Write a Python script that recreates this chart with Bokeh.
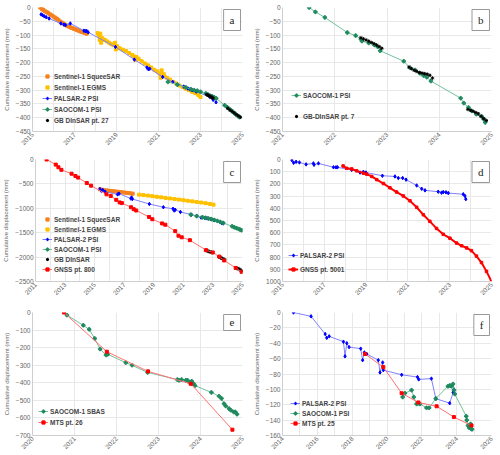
import math
from bokeh.plotting import figure
from bokeh.models import Range1d, FixedTicker, Legend, LegendItem, Label
from bokeh.layouts import column, row
from bokeh.embed import file_html
from bokeh.resources import INLINE

# ---------------- data ----------------
# panel a
a_sqz_t = [2015.37, 2015.45, 2015.52, 2015.6, 2015.68, 2015.76, 2015.84, 2015.92, 2016.0, 2016.08, 2016.16, 2016.24, 2016.32, 2016.4, 2016.48, 2016.56, 2016.64, 2016.72, 2016.8, 2016.88, 2016.96, 2017.04, 2017.12, 2017.2, 2017.28, 2017.36, 2017.44, 2017.52, 2017.58]
a_sqz_d = [0, -5, -9, -14, -17, -21, -25, -29, -33, -37, -41, -46, -51, -55, -59, -63, -66, -69, -72, -74, -77, -79, -82, -84, -87, -89, -91, -93, -95]
a_egms_t = [2018.10, 2018.15, 2018.20, 2018.23, 2018.27, 2018.30, 2018.35, 2018.45, 2018.55, 2018.65, 2018.75, 2018.85, 2018.93, 2018.97, 2019.02, 2019.15, 2019.3, 2019.45, 2019.6, 2019.75, 2019.85, 2019.9, 2019.95, 2020.05, 2020.2, 2020.35, 2020.5, 2020.65, 2020.8, 2020.95, 2021.05, 2021.1, 2021.15, 2021.2, 2021.25, 2021.4, 2021.55, 2021.7, 2021.85, 2022.0, 2022.15, 2022.3, 2022.45, 2022.6, 2022.75, 2022.9, 2023.0]
a_egms_d = [-93, -100, -118, -95, -128, -110, -115, -118, -123, -128, -133, -137, -128, -152, -140, -148, -153, -158, -165, -172, -178, -190, -180, -186, -195, -203, -210, -218, -226, -232, -240, -255, -228, -250, -242, -255, -262, -270, -276, -283, -289, -295, -300, -306, -311, -318, -325]
a_pal_t = [2015.41, 2015.48, 2015.56, 2015.65, 2015.79, 2016.35, 2016.5, 2016.57, 2016.8, 2017.45, 2017.52, 2017.58, 2017.65, 2018.95, 2019.85, 2020.45, 2020.52, 2020.58, 2021.2, 2021.68, 2022.2, 2022.4, 2022.5, 2022.6, 2022.8, 2023.45, 2023.6, 2023.74]
a_pal_d = [-25, -28, -32, -35, -40, -58, -62, -64, -58, -84, -86, -85, -90, -143, -189, -218, -224, -222, -252, -270, -287, -294, -297, -300, -305, -325, -335, -344]
a_sao_t = [2021.45, 2021.9, 2022.3, 2022.55, 2022.7, 2022.85, 2023.0, 2023.25, 2023.35, 2023.45, 2023.55, 2023.65, 2023.75, 2024.15, 2024.28, 2024.4, 2024.5, 2024.6, 2024.7, 2024.78, 2024.86]
a_sao_d = [-270, -280, -290, -297, -300, -302, -306, -312, -316, -320, -322, -326, -330, -355, -362, -370, -376, -383, -389, -394, -398]
a_gb_t = [2023.3, 2023.35, 2023.4, 2023.45, 2023.5, 2023.55, 2023.6, 2024.3, 2024.4, 2024.5, 2024.6, 2024.7, 2024.8, 2024.9]
a_gb_d = [-316, -318, -320, -322, -324, -327, -329, -366, -372, -377, -382, -388, -393, -398]

# panel b
b_sao_t = [2021.51, 2021.63, 2021.81, 2022.24, 2022.40, 2022.50, 2022.52, 2022.65, 2022.76, 2022.82, 2022.87, 2023.32, 2023.44, 2023.54, 2023.63, 2023.70, 2023.76, 2023.84, 2024.41, 2024.47, 2024.56, 2024.62, 2024.71, 2024.81, 2024.85, 2024.88]
b_sao_d = [0, -16, -36, -91, -102, -115, -122, -129, -136, -142, -157, -195, -219, -227, -239, -247, -253, -267, -329, -347, -363, -375, -387, -395, -405, -417]
b_gb_t = [2022.50, 2022.55, 2022.6, 2022.65, 2022.7, 2022.75, 2022.8, 2022.85, 2022.9, 2023.42, 2023.47, 2023.52, 2023.57, 2023.62, 2023.67, 2023.72, 2023.77, 2023.82, 2023.87, 2024.55, 2024.6, 2024.65, 2024.7, 2024.75, 2024.8, 2024.85, 2024.9]
b_gb_d = [-110, -114, -118, -122, -127, -131, -136, -142, -148, -216, -222, -228, -232, -236, -238, -240, -242, -246, -256, -370, -373, -377, -381, -386, -395, -403, -410]

# panel c
c_sqz_t = [2015.36, 2015.5, 2015.65, 2015.8, 2015.95, 2016.1, 2016.25, 2016.4, 2016.55, 2016.7, 2016.85, 2017.0, 2017.15, 2017.3, 2017.45, 2017.57]
c_sqz_d = [-612, -620, -628, -633, -640, -645, -650, -655, -661, -667, -672, -677, -683, -689, -695, -700]
c_egms_t = [2018.0, 2018.3, 2018.6, 2018.9, 2019.2, 2019.5, 2019.8, 2020.1, 2020.4, 2020.7, 2021.0, 2021.3, 2021.6, 2021.9, 2022.2, 2022.5, 2022.8, 2023.04]
c_egms_d = [-720, -730, -740, -752, -763, -775, -787, -798, -810, -822, -834, -846, -858, -870, -882, -895, -910, -925]
c_pal_t = [2015.36, 2015.45, 2015.55, 2015.7, 2016.55, 2016.65, 2017.45, 2017.5, 2017.55, 2018.7, 2019.65, 2020.3, 2020.38, 2020.45, 2020.8, 2021.55, 2021.9, 2022.2, 2022.45, 2022.6, 2022.85, 2023.05, 2023.5, 2023.6, 2023.7]
c_pal_d = [-605, -640, -625, -660, -715, -700, -800, -780, -810, -912, -978, -1010, -1045, -1030, -1075, -1130, -1157, -1190, -1197, -1205, -1225, -1245, -1285, -1300, -1310]
c_sao_t = [2021.5, 2021.9, 2022.3, 2022.5, 2022.7, 2022.9, 2023.1, 2023.3, 2023.5, 2023.7, 2024.3, 2024.45, 2024.6, 2024.75, 2024.85, 2024.95]
c_sao_d = [-1130, -1160, -1185, -1195, -1210, -1222, -1240, -1258, -1280, -1300, -1370, -1390, -1408, -1425, -1438, -1450]
c_gb_t = [2022.5, 2022.58, 2022.65, 2022.72, 2022.8, 2022.88, 2022.95, 2023.4, 2023.47, 2023.54, 2023.6, 2023.67, 2023.74, 2023.8, 2024.55, 2024.62, 2024.7, 2024.77, 2024.84, 2024.9, 2024.95]
c_gb_d = [-1858, -1866, -1875, -1884, -1892, -1900, -1908, -1990, -2002, -2015, -2025, -2035, -2048, -2058, -2222, -2230, -2236, -2245, -2262, -2275, -2290]
c_gnss_t = [2011.75, 2012.37, 2012.55, 2012.75, 2013.44, 2013.7, 2013.88, 2014.47, 2014.76, 2015.8, 2016.09, 2016.46, 2016.69, 2016.84, 2017.46, 2017.64, 2017.81, 2018.68, 2018.9, 2019.56, 2019.78, 2020.45, 2020.67, 2020.89, 2021.44, 2022.54, 2022.99, 2023.43, 2023.76, 2024.54, 2024.94]
c_gnss_d = [0, -105, -159, -212, -291, -337, -371, -482, -536, -714, -747, -827, -879, -893, -978, -1018, -1045, -1177, -1224, -1310, -1336, -1468, -1561, -1594, -1653, -1858, -1905, -1990, -2069, -2222, -2302]

# panel d (downward positive)
d_pal_t = [2015.45, 2015.53, 2015.65, 2015.81, 2016.13, 2016.48, 2016.51, 2016.72, 2017.44, 2017.56, 2017.63, 2018.31, 2018.71, 2018.87, 2018.99, 2019.78, 2020.38, 2020.54, 2020.75, 2020.91, 2021.42, 2021.66, 2021.82, 2022.45, 2022.61, 2022.69, 2022.82, 2022.93, 2023.65, 2023.73, 2023.77]
d_pal_d = [5, 27, 19, 24, 40, 32, 43, 32, 64, 64, 64, 85, 107, 101, 107, 133, 139, 152, 152, 165, 213, 240, 253, 264, 272, 267, 269, 275, 285, 299, 325]
d_gnss_t = [2017.9, 2018.07, 2018.31, 2018.55, 2018.87, 2019.03, 2019.27, 2019.51, 2019.83, 2020.14, 2020.46, 2020.78, 2021.1, 2021.42, 2021.74, 2022.05, 2022.37, 2022.69, 2023.01, 2023.33, 2023.57, 2023.81, 2024.04, 2024.28, 2024.52, 2024.76, 2025.0]
d_gnss_d = [53, 72, 77, 93, 112, 120, 139, 165, 197, 232, 267, 299, 339, 392, 453, 507, 565, 613, 645, 685, 707, 725, 747, 792, 845, 917, 1000]

# panel e
e_sao_t = [2020.82, 2021.21, 2021.35, 2021.48, 2021.61, 2021.75, 2021.79, 2022.22, 2022.37, 2022.74, 2023.45, 2023.49, 2023.55, 2023.65, 2023.69, 2023.73, 2023.77, 2023.79, 2023.83, 2023.87, 2024.26, 2024.44, 2024.5, 2024.56, 2024.6, 2024.68, 2024.72, 2024.79, 2024.83, 2024.87]
e_sao_d = [-15, -73, -96, -148, -208, -242, -238, -285, -300, -341, -382, -386, -382, -386, -386, -397, -401, -391, -404, -416, -455, -476, -489, -519, -532, -547, -556, -566, -566, -579]
e_mts_t = [2020.75, 2021.77, 2022.75, 2023.77, 2024.76]
e_mts_d = [0, -223, -335, -406, -667]

# panel f
f_pal_t = [2014.63, 2015.64, 2016.45, 2016.54, 2016.68, 2017.5, 2017.59, 2017.69, 2017.82, 2018.49, 2018.6, 2018.7, 2018.84, 2019.5, 2019.6, 2019.75, 2019.79, 2020.84, 2021.75, 2021.82, 2022.55, 2022.8, 2023.6, 2023.8, 2023.84]
f_pal_d = [0, -5, -28, -33, -31, -38, -57, -40, -45, -47, -62, -52, -54, -62, -78, -65, -75, -81, -84, -87, -86, -112, -118, -104, -100]
f_sao_t = [2020.9, 2021.03, 2021.41, 2021.54, 2021.7, 2021.79, 2021.89, 2022.27, 2022.42, 2022.8, 2023.5, 2023.6, 2023.7, 2023.79, 2023.85, 2023.89, 2024.55, 2024.58, 2024.65, 2024.72, 2024.8, 2024.83, 2024.88]
f_sao_d = [-110, -105, -101, -110, -119, -118, -119, -124, -124, -112, -96, -95, -96, -93, -101, -106, -135, -140, -147, -150, -145, -151, -152]
f_mts_t = [2018.74, 2019.79, 2020.84, 2021.8, 2022.85, 2023.84, 2024.85]
f_mts_d = [-54, -71, -105, -117, -122, -136, -147]

# axis ticks
a_xticks = [2015, 2017, 2019, 2021, 2023, 2025]
a_yticks = [0, -50, -100, -150, -200, -250, -300, -350, -400, -450]
b_xticks = [2021, 2022, 2023, 2024, 2025]
c_xticks = [2011, 2013, 2015, 2017, 2019, 2021, 2023, 2025]
c_yticks = [0, -500, -1000, -1500, -2000, -2500]
d_xticks = [2015, 2017, 2019, 2021, 2023, 2025]
d_yticks = [0, 100, 200, 300, 400, 500, 600, 700, 800, 900, 1000]
e_xticks = [2020, 2021, 2022, 2023, 2024, 2025]
e_yticks = [0, -100, -200, -300, -400, -500, -600, -700]
f_xticks = [2014, 2016, 2018, 2020, 2022, 2024, 2026]
f_yticks = [0, -20, -40, -60, -80, -100, -120, -140, -160]

# ---------------- style ----------------
FONT = "Liberation Sans"
ORANGE = "#f5801e"
YELLOW = "#ffc000"
BLUE = "#0000ff"
BLUE_L = "#8080ff"
GREEN = "#1f8a5e"
GREEN_L = "#72c29d"
RED = "#ff0000"
RED_L = "#ff7070"
GRID = "#e8e8e8"


def panel(letter, xr, yr, xticks, yticks, left, h, bt, bb):
    w = 250 if left else 249
    bl = 26 if left else 32
    br = 8
    p = figure(width=w, height=h, x_range=Range1d(*xr), y_range=Range1d(*yr),
               output_backend="svg", toolbar_location=None,
               min_border_left=bl, min_border_right=br,
               min_border_top=bt, min_border_bottom=bb)
    p.outline_line_color = None
    minor = [y for y in range(int(math.ceil(xr[0])), int(xr[1]) + 1) if y not in xticks]
    p.xaxis.ticker = FixedTicker(ticks=xticks, minor_ticks=minor)
    p.yaxis.ticker = FixedTicker(ticks=yticks, minor_ticks=[])
    p.xgrid.grid_line_color = GRID
    p.xgrid.minor_grid_line_color = GRID
    p.ygrid.grid_line_color = GRID
    for ax in (p.xaxis[0], p.yaxis[0]):
        ax.major_label_text_font = FONT
        ax.major_label_text_font_size = "6.5px"
        ax.major_label_text_color = "#666666"
        ax.axis_line_color = "#cfcfcf"
        ax.major_tick_line_color = None
        ax.minor_tick_line_color = None
        ax.major_tick_out = 0
        ax.major_tick_in = 0
        ax.minor_tick_out = 0
        ax.minor_tick_in = 0
        ax.major_label_standoff = 2
    p.xaxis.major_label_orientation = math.pi / 4
    p.yaxis.axis_label = "Cumulative displacement (mm)"
    p.yaxis.axis_label_text_font = FONT
    p.yaxis.axis_label_text_font_size = "6px"
    p.yaxis.axis_label_text_font_style = "normal"
    p.yaxis.axis_label_text_color = "#666666"
    p.yaxis.axis_label_standoff = 3
    p.add_layout(Label(x=xr[1], y=yr[1], x_offset=-2, y_offset=-2,
                       text=letter, text_align="right", text_baseline="top",
                       text_font="Liberation Serif", text_font_size="11px",
                       text_color="#222222", background_fill_color="white",
                       border_line_color="#999999",
                       padding=dict(left=6, right=6, top=4, bottom=5)))
    return p


def band(p, t, d, color):
    p.line(t, d, line_color=color, line_width=2.5)
    return p.scatter(t, d, marker="square", size=3, fill_color=color, line_color=color)


def psi(p, t, d, color, lcolor, marker):
    l = p.line(t, d, line_color=lcolor, line_width=1)
    s = p.scatter(t, d, marker=marker, size=3.5, fill_color=color, line_color=color)
    return [l, s]


def gb(p, t, d):
    return p.scatter(t, d, marker="asterisk", size=3.5, line_color="black", line_width=1)


def sq(p, t, d, color, lcolor, lw=1, size=3):
    l = p.line(t, d, line_color=lcolor, line_width=lw)
    s = p.scatter(t, d, marker="square", size=size, fill_color=color, line_color=color)
    return [l, s]


def legend(p, items, x, y, spacing):
    lg = Legend(items=[LegendItem(label=lab, renderers=r) for lab, r in items],
                location=(x, y), orientation="vertical", padding=0, margin=0,
                spacing=spacing, glyph_height=8, glyph_width=10, label_height=8,
                label_standoff=2, label_text_font=FONT, label_text_font_size="6.5px",
                label_text_font_style="bold", label_text_color="#444444",
                background_fill_alpha=0, border_line_alpha=0)
    p.add_layout(lg)


# ---- a
pa = panel("a", (2015, 2025), (-450, 0), a_xticks, a_yticks, True, 150, 7, 17)
r1 = band(pa, a_sqz_t, a_sqz_d, ORANGE)
r2 = band(pa, a_egms_t, a_egms_d, YELLOW)
r3 = psi(pa, a_pal_t, a_pal_d, BLUE, BLUE_L, "diamond")
r4 = psi(pa, a_sao_t, a_sao_d, GREEN, GREEN_L, "plus")
r5 = gb(pa, a_gb_t, a_gb_d)
legend(pa, [("Sentinel-1 SqueeSAR", [r1]), ("Sentinel-1 EGMS", [r2]), ("PALSAR-2 PSI", r3),
            ("SAOCOM-1 PSI", r4), ("GB DInSAR pt. 27", [r5])], 10, 7, 3)

# ---- b
pb = panel("b", (2021, 2025), (-450, 0), b_xticks, a_yticks, False, 150, 7, 17)
r1 = psi(pb, b_sao_t, b_sao_d, GREEN, GREEN_L, "plus")
r2 = gb(pb, b_gb_t, b_gb_d)
legend(pb, [("SAOCOM-1 PSI", r1), ("GB-DInSAR pt. 7", [r2])], 9, 11, 13)

# ---- c
pc = panel("c", (2011, 2025), (-2500, 0), c_xticks, c_yticks, True, 150, 9, 16)
r1 = band(pc, c_sqz_t, c_sqz_d, ORANGE)
r2 = band(pc, c_egms_t, c_egms_d, YELLOW)
r3 = psi(pc, c_pal_t, c_pal_d, BLUE, BLUE_L, "diamond")
r4 = psi(pc, c_sao_t, c_sao_d, GREEN, GREEN_L, "plus")
r5 = gb(pc, c_gb_t, c_gb_d)
r6 = sq(pc, c_gnss_t, c_gnss_d, RED, RED_L)
legend(pc, [("Sentinel-1 SqueeSAR", [r1]), ("Sentinel-1 EGMS", [r2]), ("PALSAR-2 PSI", r3),
            ("SAOCOM-1 PSI", r4), ("GB DInSAR", [r5]), ("GNSS pt. 800", r6)], 7, 8, 2)

# ---- d
pd_ = panel("d", (2015, 2025), (1000, 0), d_xticks, d_yticks, False, 150, 9, 16)
r1 = psi(pd_, d_pal_t, d_pal_d, BLUE, BLUE_L, "diamond")
r2 = sq(pd_, d_gnss_t, d_gnss_d, RED, RED, 2, 2.5)
legend(pd_, [("PALSAR-2 PSI", r1), ("GNSS pt. 5001", r2)], 6, 8, 6)

# ---- e
pe = panel("e", (2020, 2025), (-700, 0), e_xticks, e_yticks, True, 154, 12, 17)
r1 = psi(pe, e_sao_t, e_sao_d, GREEN, GREEN_L, "plus")
r2 = sq(pe, e_mts_t, e_mts_d, RED, RED_L)
legend(pe, [("SAOCOM-1 SBAS", r1), ("MTS pt. 26", r2)], 6, 9, 3)

# ---- f
pf = panel("f", (2014, 2026), (-160, 0), f_xticks, f_yticks, False, 154, 12, 17)
r1 = psi(pf, f_pal_t, f_pal_d, BLUE, BLUE_L, "diamond")
r2 = psi(pf, f_sao_t, f_sao_d, GREEN, GREEN_L, "plus")
r3 = sq(pf, f_mts_t, f_mts_d, RED, RED_L)
legend(pf, [("PALSAR-2 PSI", r1), ("SAOCOM-1 PSI", r2), ("MTS pt. 25", r3)], 8, 8, 2)

layout = column(row(pa, pb), row(pc, pd_), row(pe, pf), spacing=0)
open("out.html", "w").write(file_html(layout, INLINE))
